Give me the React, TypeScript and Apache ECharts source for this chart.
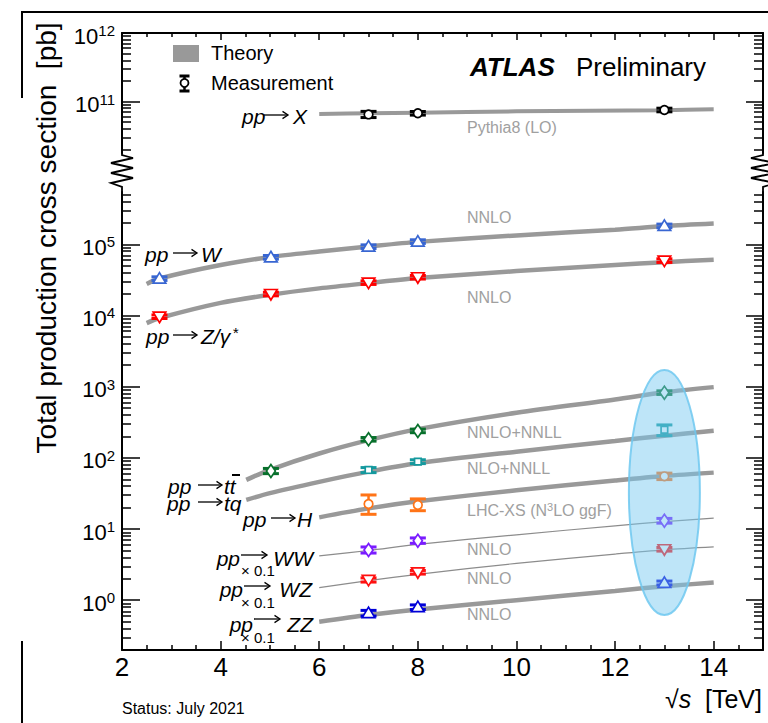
import React, { useEffect, useRef } from 'react';
import * as echarts from 'echarts';

const FONT = '"Liberation Sans", Arial, Helvetica, sans-serif';
const L = (v: number) => Math.log10(v);

// ---------- axis ranges ----------
const X_MIN = 2;
const X_MAX = 15;
const UP_MIN = 1.78e10;
const UP_MAX = 1e12;
const LOW_MIN = 0.2;
const LOW_MAX = 5.42e5;

// ---------- tick values ----------
const xMajor = [2, 4, 6, 8, 10, 12, 14];
const xMinor = [2.5, 3, 3.5, 4.5, 5, 5.5, 6.5, 7, 7.5, 8.5, 9, 9.5, 10.5, 11, 11.5, 12.5, 13, 13.5, 14.5];
const upMajor = [1e11, 1e12];
const upMinor = [2e10, 3e10, 4e10, 5e10, 6e10, 7e10, 8e10, 9e10, 2e11, 3e11, 4e11, 5e11, 6e11, 7e11, 8e11, 9e11];
const lowMajor = [1, 10, 100, 1e3, 1e4, 1e5];
const lowMinor = [
  0.3, 0.4, 0.5, 0.6, 0.7, 0.8, 0.9,
  2, 3, 4, 5, 6, 7, 8, 9,
  20, 30, 40, 50, 60, 70, 80, 90,
  200, 300, 400, 500, 600, 700, 800, 900,
  2e3, 3e3, 4e3, 5e3, 6e3, 7e3, 8e3, 9e3,
  2e4, 3e4, 4e4, 5e4, 6e4, 7e4, 8e4, 9e4,
  2e5, 3e5, 4e5, 5e5,
];

// ---------- theory curves (sqrt(s) in TeV, sigma in pb) ----------
const thX_s = [6, 7, 8, 10, 13, 14];
const thX = [6.6e10, 6.75e10, 6.9e10, 7.2e10, 7.5e10, 7.7e10];
const thWZ_s = [2.5, 2.76, 4, 5, 6, 7, 8, 10, 12, 13, 14];
const thW = [2.77e4, 3.3e4, 5.1e4, 6.6e4, 7.9e4, 9.3e4, 1.08e5, 1.33e5, 1.6e5, 1.8e5, 1.95e5];
const thZ = [7.8e3, 9.2e3, 1.5e4, 1.95e4, 2.4e4, 2.85e4, 3.35e4, 4.2e4, 5.1e4, 5.6e4, 6.05e4];
const thTop_s = [4.52, 5, 6, 7, 8, 10, 12, 13, 14];
const thTT = [49, 68, 115, 177, 253, 430, 660, 832, 985];
const thTQ = [25.6, 32, 46, 64, 84, 122, 172, 205, 240];
const thDib_s = [6, 7, 8, 10, 12, 13, 14];
const thH = [14.6, 19.5, 24.5, 35, 48, 55.6, 62];
const thWW = [4.2, 5.0, 6.1, 8.3, 11.1, 12.7, 14.2];
const thWZ = [1.5, 1.89, 2.31, 3.3, 4.45, 5.1, 5.6];
const thZZ = [0.5, 0.62, 0.74, 1.0, 1.35, 1.57, 1.77];

// ---------- measurements ----------
const mX_s = [7, 8, 13];
const mX = [6.5e10, 6.75e10, 7.54e10];
const mX_lo = [5.85e10, 6.6e10, 7.35e10];
const mX_hi = [7.2e10, 6.9e10, 7.7e10];

const mV_s = [2.76, 5.02, 7, 8, 13];
const mW = [3.29e4, 6.56e4, 9.25e4, 1.09e5, 1.81e5];
const mW_lo = [3.17e4, 6.3e4, 8.9e4, 1.05e5, 1.75e5];
const mW_hi = [3.41e4, 6.8e4, 9.6e4, 1.13e5, 1.87e5];
const mZ = [9.6e3, 2.0e4, 2.89e4, 3.44e4, 5.89e4];
const mZ_lo = [9.2e3, 1.92e4, 2.78e4, 3.31e4, 5.67e4];
const mZ_hi = [1.0e4, 2.08e4, 3.0e4, 3.57e4, 6.11e4];

const mTT_s = [5.02, 7, 8, 13];
const mTT = [65.5, 182, 239, 824];
const mTT_lo = [60, 175, 230, 795];
const mTT_hi = [71, 189, 248, 853];

const m3_s = [7, 8, 13];
const mTQ = [67.6, 88.5, 248];
const mTQ_lo = [62, 83, 205];
const mTQ_hi = [73, 94, 290];
const mH = [22.5, 21.8, 55];
const mH_lo = [16.1, 18.1, 49.5];
const mH_hi = [30.1, 26.5, 61];
const mWW = [5.08, 6.87, 13.1];
const mWW_lo = [4.6, 6.3, 12.1];
const mWW_hi = [5.6, 7.5, 14.1];
const mWZ = [1.93, 2.47, 5.2];
const mWZ_lo = [1.8, 2.33, 4.9];
const mWZ_hi = [2.06, 2.62, 5.5];
const mZZ = [0.66, 0.8, 1.75];
const mZZ_lo = [0.6, 0.74, 1.64];
const mZZ_hi = [0.72, 0.86, 1.86];

// ellipse highlighting 13 TeV (x range TeV, y range pb)
const ell_s = [12.28, 13.72];
const ell_v = [0.62, 1718];

// ---------- helpers ----------
const line = (s: number[], v: number[], width: number, xi: number, yi: number, color = '#999999') => ({
  type: 'line',
  xAxisIndex: xi,
  yAxisIndex: yi,
  data: s.map((x, i) => [x, L(v[i])]),
  smooth: 0.3,
  symbol: 'none',
  silent: true,
  lineStyle: { color, width },
  z: 2,
});

const markerShape = (shape: string, cx: number, cy: number, color: string): any => {
  const style = { fill: '#ffffff', stroke: color, lineWidth: 1.7 };
  switch (shape) {
    case 'circle':
      return { type: 'circle', shape: { cx, cy, r: 4.3 }, style };
    case 'triUp':
      return { type: 'polygon', shape: { points: [[cx, cy - 6], [cx + 6.3, cy + 4.5], [cx - 6.3, cy + 4.5]] }, style };
    case 'triDown':
      return { type: 'polygon', shape: { points: [[cx, cy + 6], [cx + 6.3, cy - 4.5], [cx - 6.3, cy - 4.5]] }, style };
    case 'diamond':
      return { type: 'polygon', shape: { points: [[cx, cy - 6.5], [cx + 4.5, cy], [cx, cy + 6.5], [cx - 4.5, cy]] }, style };
    default:
      return { type: 'rect', shape: { x: cx - 3.3, y: cy - 3.3, width: 6.6, height: 6.6 }, style };
  }
};

const meas = (s: number[], v: number[], lo: number[], hi: number[], shape: string, color: string, xi: number, yi: number) => ({
  type: 'custom',
  xAxisIndex: xi,
  yAxisIndex: yi,
  z: 5,
  silent: true,
  encode: { x: 0, y: 1 },
  data: s.map((x, i) => [x, L(v[i]), L(lo[i]), L(hi[i])]),
  renderItem: (_params: any, api: any) => {
    const x = api.value(0);
    const p = api.coord([x, api.value(1)]);
    const pl = api.coord([x, api.value(2)]);
    const ph = api.coord([x, api.value(3)]);
    const cx = p[0];
    const cy = p[1];
    const top = Math.min(ph[1], cy - 1.8);
    const bot = Math.max(pl[1], cy + 1.8);
    const w = 16;
    const h = 3;
    return {
      type: 'group',
      children: [
        { type: 'line', shape: { x1: cx, y1: top, x2: cx, y2: bot }, style: { stroke: color, lineWidth: 2.5 } },
        { type: 'rect', shape: { x: cx - w / 2, y: top - h / 2, width: w, height: h }, style: { fill: color } },
        { type: 'rect', shape: { x: cx - w / 2, y: bot - h / 2, width: w, height: h }, style: { fill: color } },
        markerShape(shape, cx, cy, color),
      ],
    };
  },
});

const supLabel = (v: number) => `{b|10}{s|${Math.round(v)}}`;
const yRich = {
  b: { fontSize: 22, fontFamily: FONT, color: '#000', padding: [6, 0, 0, 0] },
  s: { fontSize: 15, fontFamily: FONT, color: '#000', padding: [0, 0, 5, 0] },
};

const yAxisCfg = (grid: number, pos: string, min: number, max: number, ticks: number[], len: number, labels: boolean, showLine: boolean) => ({
  type: 'value',
  gridIndex: grid,
  position: pos,
  min: L(min),
  max: L(max),
  axisLine: { show: showLine, onZero: false, lineStyle: { color: '#000', width: 2 } },
  axisTick: { show: true, inside: true, length: len, customValues: ticks.map(L), lineStyle: { color: '#000', width: 1.5 } },
  axisLabel: labels
    ? { show: true, customValues: ticks.map(L), formatter: supLabel, rich: yRich, margin: 7 }
    : { show: false },
  splitLine: { show: false },
});

const xAxisCfg = (grid: number, pos: string, ticks: number[] | null, len: number, labels: boolean, showLine: boolean) => ({
  type: 'value',
  gridIndex: grid,
  position: pos,
  min: X_MIN,
  max: X_MAX,
  show: ticks !== null,
  axisLine: { show: showLine, onZero: false, lineStyle: { color: '#000', width: 2 } },
  axisTick: ticks
    ? { show: true, inside: true, length: len, customValues: ticks, lineStyle: { color: '#000', width: 1.5 } }
    : { show: false },
  axisLabel: labels
    ? { show: true, customValues: ticks, fontSize: 26, fontFamily: FONT, color: '#000', margin: 4 }
    : { show: false },
  splitLine: { show: false },
});

const txt = (text: string, x: number, y: number, size: number, opts: any = {}) => ({
  type: 'text',
  x,
  y,
  z: 50,
  rotation: opts.rotation || 0,
  silent: true,
  style: {
    text,
    fontFamily: FONT,
    fontSize: size,
    fontStyle: opts.italic ? 'italic' : 'normal',
    fontWeight: opts.bold ? 'bold' : 'normal',
    fill: opts.color || '#000',
    align: opts.align || 'left',
    verticalAlign: 'middle',
  },
});

const richTxt = (text: string, x: number, y: number, align: string, rich: any) => ({
  type: 'text',
  x,
  y,
  z: 50,
  silent: true,
  style: { text, align, verticalAlign: 'middle', rich },
});

// a thin "→" drawn as a shaft and an open head
const arrow = (x1: number, x2: number, y: number): any[] => [
  { type: 'line', z: 50, silent: true, shape: { x1, y1: y, x2: x2 - 0.5, y2: y }, style: { stroke: '#000', lineWidth: 1.3 } },
  {
    type: 'polyline', z: 50, silent: true,
    shape: { points: [[x2 - 5.5, y - 3.6], [x2, y], [x2 - 5.5, y + 3.6]] },
    style: { stroke: '#000', lineWidth: 1.3, fill: null },
  },
];

const it = (text: string, x: number, y: number, align = 'left') => txt(text, x, y, 21, { italic: true, align });

const GRAY = '#a0a0a0';

function buildOption(): any {
  const zigL = [[122, 152], [122, 155], [133, 158], [111, 163], [133, 168], [111, 173], [133, 178], [111, 183], [122, 187], [122, 193]];
  const zigR = [[763, 152], [763, 155], [751, 158], [775, 163], [751, 168], [775, 173], [751, 178], [775, 183], [763, 187], [763, 193]];
  const bl = { stroke: '#000', lineWidth: 2 };

  const graphic: any[] = [
    { type: 'line', shape: { x1: 22, y1: 12, x2: 768, y2: 12 }, style: bl },
    { type: 'line', shape: { x1: 22, y1: 11, x2: 22, y2: 98 }, style: bl },
    { type: 'line', shape: { x1: 22, y1: 641, x2: 22, y2: 723 }, style: bl },
    { type: 'polyline', shape: { points: zigL }, style: { stroke: '#000', lineWidth: 1.8, fill: null } },
    { type: 'polyline', shape: { points: zigR }, style: { stroke: '#000', lineWidth: 1.8, fill: null } },
    // legend
    { type: 'rect', shape: { x: 173, y: 45, width: 26, height: 17 }, style: { fill: '#999999' } },
    { type: 'line', shape: { x1: 184.5, y1: 76, x2: 184.5, y2: 91 }, style: { stroke: '#000', lineWidth: 2.5 } },
    { type: 'rect', shape: { x: 179.5, y: 74.5, width: 10, height: 3 }, style: { fill: '#000' } },
    { type: 'rect', shape: { x: 179.5, y: 89.5, width: 10, height: 3 }, style: { fill: '#000' } },
    { type: 'circle', shape: { cx: 184.5, cy: 83, r: 4 }, style: { fill: '#fff', stroke: '#000', lineWidth: 1.8 } },
    txt('Theory', 211, 53, 20),
    txt('Measurement', 211, 83, 20),
    txt('ATLAS', 470, 67, 26, { bold: true, italic: true }),
    txt('Preliminary', 576, 67, 26),
    // y title
    txt('Total production cross section  [pb]', 46, 238, 28, { rotation: Math.PI / 2, align: 'center' }),
    // x title
    richTxt('{a|√}{i|s}{a|  [TeV]}', 762, 699, 'right', {
      a: { fontSize: 25, fontFamily: FONT, fill: '#000' },
      i: { fontSize: 25, fontFamily: FONT, fontStyle: 'italic', fill: '#000' },
    }),
    txt('Status: July 2021', 122, 708, 16),
    // process labels
    it('pp', 242, 116), ...arrow(264, 288, 115), it('X', 293, 116),
    it('pp', 145, 254), ...arrow(173, 197, 253), it('W', 201, 254),
    it('pp', 146, 336), ...arrow(173, 197, 335),
    richTxt('{i|Z/γ}{s|*}', 201, 336, 'left', {
      i: { fontSize: 21, fontFamily: FONT, fontStyle: 'italic', fill: '#000' },
      s: { fontSize: 15, fontFamily: FONT, fontStyle: 'italic', fill: '#000', padding: [0, 0, 8, 2] },
    }),
    it('pp', 168, 486), ...arrow(198, 222, 485), it('tt', 224, 486),
    { type: 'line', z: 50, shape: { x1: 232, y1: 475, x2: 240, y2: 475 }, style: { stroke: '#000', lineWidth: 2 } },
    it('pp', 167, 503), ...arrow(198, 222, 502), it('tq', 224, 503),
    it('pp', 243, 519), ...arrow(271, 295, 518), it('H', 297, 519),
    // WW x 0.1
    it('pp', 240, 558, 'right'), ...arrow(241, 267, 555), it('WW', 313, 558, 'right'),
    txt('× 0.1', 241, 570, 15),
    // WZ x 0.1
    it('pp', 243, 589, 'right'), ...arrow(244, 270, 586), it('WZ', 312, 589, 'right'),
    txt('× 0.1', 241, 602, 15),
    // ZZ x 0.1
    it('pp', 253, 624, 'right'), ...arrow(254, 280, 619), it('ZZ', 313, 624, 'right'),
    txt('× 0.1', 241, 637, 15),
    // theory labels
    txt('Pythia8 (LO)', 467, 127, 16, { color: GRAY }),
    txt('NNLO', 467, 217, 16, { color: GRAY }),
    txt('NNLO', 467, 297, 16, { color: GRAY }),
    txt('NNLO+NNLL', 467, 432, 16, { color: GRAY }),
    txt('NLO+NNLL', 467, 468, 16, { color: GRAY }),
    richTxt('{a|LHC-XS (N}{s|3}{a|LO ggF)}', 467, 510, 'left', {
      a: { fontSize: 16, fontFamily: FONT, fill: GRAY },
      s: { fontSize: 11, fontFamily: FONT, fill: GRAY, padding: [0, 0, 7, 0] },
    }),
    txt('NNLO', 467, 549, 16, { color: GRAY }),
    txt('NNLO', 467, 578, 16, { color: GRAY }),
    txt('NNLO', 467, 614, 16, { color: GRAY }),
  ];

  const ellipseSeries = {
    type: 'custom',
    xAxisIndex: 3,
    yAxisIndex: 4,
    z: 8,
    silent: true,
    encode: { x: [0, 2], y: [1, 3] },
    data: [[ell_s[0], L(ell_v[0]), ell_s[1], L(ell_v[1])]],
    renderItem: (_p: any, api: any) => {
      const a = api.coord([api.value(0), api.value(1)]);
      const b = api.coord([api.value(2), api.value(3)]);
      return {
        type: 'ellipse',
        shape: { cx: (a[0] + b[0]) / 2, cy: (a[1] + b[1]) / 2, rx: Math.abs(b[0] - a[0]) / 2, ry: Math.abs(b[1] - a[1]) / 2 },
        style: { fill: 'rgba(120,200,240,0.48)', stroke: 'rgba(110,200,240,0.85)', lineWidth: 2 },
      };
    },
  };

  return {
    animation: false,
    backgroundColor: '#ffffff',
    textStyle: { fontFamily: FONT },
    grid: [
      { left: 122, top: 33, width: 641, height: 120, outerBoundsMode: 'none', containLabel: false },
      { left: 122, top: 192, width: 641, height: 458, outerBoundsMode: 'none', containLabel: false },
    ],
    xAxis: [
      xAxisCfg(0, 'bottom', null, 0, false, false),
      xAxisCfg(0, 'top', xMajor, 7, false, true),
      xAxisCfg(0, 'top', xMinor, 4, false, false),
      xAxisCfg(1, 'bottom', xMajor, 9, true, true),
      xAxisCfg(1, 'bottom', xMinor, 5, false, false),
    ],
    yAxis: [
      yAxisCfg(0, 'left', UP_MIN, UP_MAX, upMajor, 18, true, true),
      yAxisCfg(0, 'left', UP_MIN, UP_MAX, upMinor, 9, false, false),
      yAxisCfg(0, 'right', UP_MIN, UP_MAX, upMajor, 17, false, true),
      yAxisCfg(0, 'right', UP_MIN, UP_MAX, upMinor, 9, false, false),
      yAxisCfg(1, 'left', LOW_MIN, LOW_MAX, lowMajor, 18, true, true),
      yAxisCfg(1, 'left', LOW_MIN, LOW_MAX, lowMinor, 9, false, false),
      yAxisCfg(1, 'right', LOW_MIN, LOW_MAX, lowMajor, 17, false, true),
      yAxisCfg(1, 'right', LOW_MIN, LOW_MAX, lowMinor, 9, false, false),
    ],
    series: [
      line(thX_s, thX, 4, 0, 0),
      line(thWZ_s, thW, 4.5, 3, 4),
      line(thWZ_s, thZ, 4.5, 3, 4),
      line(thTop_s, thTT, 4.5, 3, 4),
      line(thTop_s, thTQ, 4.5, 3, 4),
      line(thDib_s, thH, 4.5, 3, 4),
      line(thDib_s, thWW, 1.2, 3, 4, '#8c8c8c'),
      line(thDib_s, thWZ, 1.2, 3, 4, '#8c8c8c'),
      line(thDib_s, thZZ, 4.5, 3, 4),
      meas(mX_s, mX, mX_lo, mX_hi, 'circle', '#000000', 0, 0),
      meas(mV_s, mW, mW_lo, mW_hi, 'triUp', '#3866d2', 3, 4),
      meas(mV_s, mZ, mZ_lo, mZ_hi, 'triDown', '#ff0000', 3, 4),
      meas(mTT_s, mTT, mTT_lo, mTT_hi, 'diamond', '#08702c', 3, 4),
      meas(m3_s, mTQ, mTQ_lo, mTQ_hi, 'square', '#14999e', 3, 4),
      meas(m3_s, mH, mH_lo, mH_hi, 'circle', '#ff7417', 3, 4),
      meas(m3_s, mWW, mWW_lo, mWW_hi, 'diamond', '#7a1cff', 3, 4),
      meas(m3_s, mWZ, mWZ_lo, mWZ_hi, 'triDown', '#ff1010', 3, 4),
      meas(m3_s, mZZ, mZZ_lo, mZZ_hi, 'triUp', '#0000d8', 3, 4),
      ellipseSeries,
    ],
    graphic,
  };
}

export default function App() {
  const ref = useRef<HTMLDivElement>(null);
  useEffect(() => {
    document.body.style.margin = '0';
    document.body.style.overflow = 'hidden';
    const chart = echarts.init(ref.current as HTMLDivElement, null, { renderer: 'svg' });
    chart.setOption(buildOption());
    return () => chart.dispose();
  }, []);
  return <div ref={ref} style={{ width: 768, height: 723 }} />;
}
